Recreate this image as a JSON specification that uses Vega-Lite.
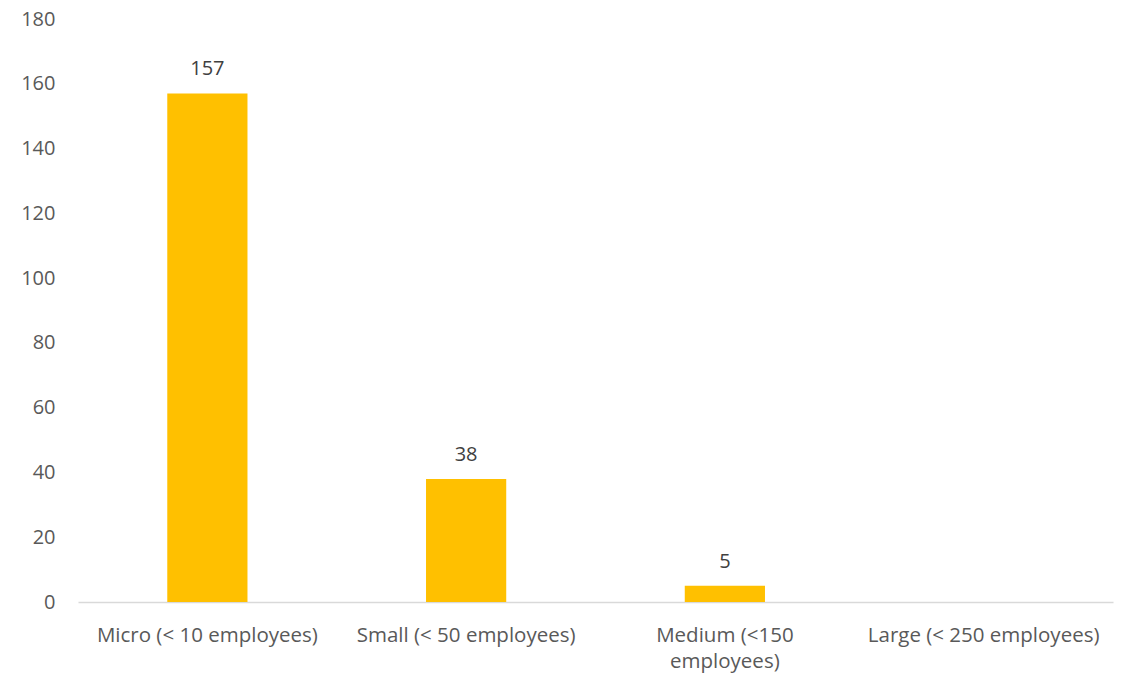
{
  "$schema": "https://vega.github.io/schema/vega-lite/v6.json",
  "width": 1035,
  "height": 583,
  "autosize": "none",
  "padding": {"left": 78, "top": 19, "right": 17, "bottom": 73},
  "background": "white",
  "config": {"view": {"stroke": null}, "font": "Open Sans"},
  "data": {
    "values": [
      {"size": "Micro (< 10 employees)", "count": 157},
      {"size": "Small (< 50 employees)", "count": 38},
      {"size": "Medium (<150 employees)", "count": 5},
      {"size": "Large (< 250 employees)", "count": null}
    ]
  },
  "encoding": {
    "x": {
      "field": "size",
      "type": "nominal",
      "sort": null,
      "scale": {
        "domain": ["Micro (< 10 employees)", "Small (< 50 employees)", "Medium (<150 employees)", "Large (< 250 employees)"],
        "paddingInner": 0.69,
        "paddingOuter": 0.345
      },
      "axis": {
        "title": null,
        "labelAngle": 0,
        "labelFont": "Open Sans",
        "labelFontSize": 20.5,
        "labelColor": "#595959",
        "labelPadding": 23,
        "labelLimit": 300,
        "labelLineHeight": 26,
        "labelBaseline": "top",
        "ticks": false,
        "domainColor": "#D9D9D9",
        "domainWidth": 1.5,
        "labelExpr": "datum.label == 'Medium (<150 employees)' ? ['Medium (<150', 'employees)'] : datum.label"
      }
    },
    "y": {
      "field": "count",
      "type": "quantitative",
      "scale": {"domain": [0, 180]},
      "axis": {
        "title": null,
        "values": [0, 20, 40, 60, 80, 100, 120, 140, 160, 180],
        "grid": false,
        "domain": false,
        "ticks": false,
        "labelFont": "Open Sans",
        "labelFontSize": 20,
        "labelColor": "#595959",
        "labelPadding": 23
      }
    }
  },
  "layer": [
    {"mark": {"type": "bar", "color": "#FFC000"}},
    {
      "mark": {"type": "text", "baseline": "alphabetic", "dy": -18, "font": "Open Sans", "fontSize": 20, "color": "#404040"},
      "encoding": {"text": {"field": "count", "type": "quantitative"}}
    }
  ]
}
